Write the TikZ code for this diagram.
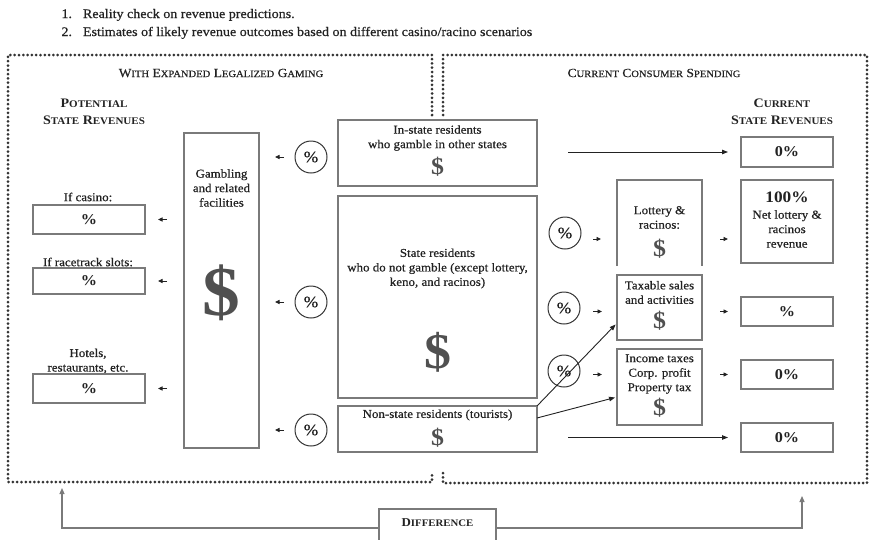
\documentclass[tikz,border=0pt]{standalone}
\usepackage{fontspec}
\setmainfont{Liberation Serif}[FakeStretch=1.08,UprightFeatures={FakeBold=0.6}]
\usetikzlibrary{arrows.meta}
\definecolor{ink}{HTML}{222222}
\definecolor{boxc}{HTML}{7A7A7A}
\definecolor{dolc}{HTML}{505050}
\definecolor{dotc}{HTML}{333333}
\newcommand\fsc[4]{{\fontsize{#1}{#1}\selectfont #3}{\fontsize{#2}{#2}\selectfont #4}}
\newcommand\hsc[2]{\fsc{12.5}{9.8}{#1}{#2}}
\newcommand\bsc[2]{\fsc{13}{10.2}{#1}{#2}}
\newcommand\dsc[2]{\fsc{12}{10}{#1}{#2}}
\begin{document}
\begin{tikzpicture}[x=1pt,y=-1pt,
 every node/.style={inner sep=0pt,outer sep=0pt,text=ink},
 boxline/.style={draw=boxc,line width=1.2pt},
 box/.style={boxline},
 txt/.style={font=\fontsize{12}{14.5}\selectfont,align=center},
 hdr/.style={font=\fontsize{13}{16}\selectfont},
 pct/.style={draw=dotc,circle,line width=1pt,minimum size=32pt,font=\fontsize{16}{16}\selectfont},
 bpct/.style={font=\bfseries\fontsize{15}{15}\selectfont},
 dollar/.style={text=dolc},
 arr/.style={draw=ink,line width=0.9pt,-{Triangle[length=6pt,width=4.5pt]}},
 sarr/.style={draw=ink,line width=0.9pt,-{Triangle[length=4.5pt,width=4pt]}},
 garr/.style={draw=boxc,line width=1.2pt,-{Triangle[length=6pt,width=5pt]}},
 dotframe/.style={draw=dotc,line width=3pt,line cap=round,dash pattern=on 0pt off 4.3pt},
]
\useasboundingbox (0,0) rectangle (878,539);

% header list
\node[hdr,anchor=base east] (n1) at (72,18) {1.};
\node[hdr,anchor=base west] (l1) at (83,18) {Reality check on revenue predictions.};
\node[hdr,anchor=base east] (n2) at (72,36) {2.};
\node[hdr,anchor=base west] (l2) at (83,36) {Estimates of likely revenue outcomes based on different casino/racino scenarios};

% dotted frames
\draw[dotframe] (432,115) -- (432,55) -- (8,55) -- (8,482) -- (432,482) -- (432,472);
\draw[dotframe] (443,115) -- (443,55) -- (867,55) -- (867,483) -- (443,483) -- (443,472);

% headings
\node[font=\fontsize{12.5}{14}\selectfont] (tl) at (221,73) {\hsc{W}{ITH} \hsc{E}{XPANDED} \hsc{L}{EGALIZED} \hsc{G}{AMING}};
\node[font=\fontsize{12.5}{14}\selectfont] (tr) at (654,73) {\hsc{C}{URRENT} \hsc{C}{ONSUMER} \hsc{S}{PENDING}};
\node[font=\bfseries\fontsize{13}{16.5}\selectfont,align=center] (potl) at (94,112) {\bsc{P}{OTENTIAL}\\\bsc{S}{TATE} \bsc{R}{EVENUES}};
\node[font=\bfseries\fontsize{13}{16.5}\selectfont,align=center] (curr) at (782,112) {\bsc{C}{URRENT}\\\bsc{S}{TATE} \bsc{R}{EVENUES}};

% left revenue boxes
\node[txt] (lcas) at (88,197) {If casino:};
\node[box,minimum width=112pt,minimum height=29pt,bpct] (casino) at (89,219.5) {\%};
\node[txt] (lrace) at (88,262) {If racetrack slots:};
\node[box,minimum width=112pt,minimum height=26pt,bpct] (race) at (89,281) {\%};
\node[txt] (lhot) at (88,361) {Hotels,\\restaurants, etc.};
\node[box,minimum width=112pt,minimum height=29pt,bpct] (hotel) at (89,388.5) {\%};

% gambling box
\node[box,minimum width=75pt,minimum height=315pt] (gamb) at (221.5,290.5) {};
\node[txt] (gambt) at (221.5,188) {Gambling\\and related\\facilities};
\node[dollar,font=\bfseries\fontsize{70}{70}\selectfont] (gambd) at (221.5,293) {\$};

% circles left
\node[pct] (c1) at (311,157) {\%};
\node[pct] (c2) at (311,302) {\%};
\node[pct] (c3) at (311,430) {\%};

% central boxes
\node[box,minimum width=199pt,minimum height=66pt] (instate) at (437.5,153) {};
\node[txt] (instt) at (437.5,138) {In-state residents\\who gamble in other states};
\node[dollar,font=\bfseries\fontsize{24}{24}\selectfont] (insd) at (437.5,167) {\$};
\node[box,minimum width=199pt,minimum height=202pt] (stres) at (437.5,297) {};
\node[txt] (strest) at (437.5,268.5) {State residents\\who do not gamble (except lottery,\\keno, and racinos)};
\node[dollar,font=\bfseries\fontsize{50}{50}\selectfont] (stresd) at (437.5,352) {\$};
\node[box,minimum width=199pt,minimum height=46pt] (nonst) at (437.5,429) {};
\node[txt] (nonstt) at (437.5,415) {Non-state residents (tourists)};
\node[dollar,font=\bfseries\fontsize{24}{24}\selectfont] (nonstd) at (437.5,438) {\$};

% right circles
\node[pct] (c4) at (565,233) {\%};
\node[pct] (c5) at (564,308) {\%};
\node[pct] (c6) at (564,371) {\%};

% right middle boxes
\node[minimum width=85pt,minimum height=86pt] (lott) at (659.5,223) {};
\draw[boxline] (lott.south west) -- (lott.north west) -- (lott.north east) -- (lott.south east);
\node[txt] (lottt) at (659.5,217.5) {Lottery \&\\racinos:};
\node[dollar,font=\bfseries\fontsize{24}{24}\selectfont] (lottd) at (659.5,249) {\$};
\node[box,minimum width=85pt,minimum height=65pt] (tax) at (659.5,307.5) {};
\node[txt] (taxt) at (659.5,292.5) {Taxable sales\\and activities};
\node[dollar,font=\bfseries\fontsize{24}{24}\selectfont] (taxd) at (659.5,321) {\$};
\node[box,minimum width=85pt,minimum height=76pt] (inc) at (659.5,387) {};
\node[txt] (inct) at (659.5,374) {Income taxes\\Corp. profit\\Property tax};
\node[dollar,font=\bfseries\fontsize{24}{24}\selectfont] (incd) at (659.5,408) {\$};

% current revenue boxes
\node[box,minimum width=92pt,minimum height=30pt,bpct] (r0) at (787,152) {0\%};
\node[box,minimum width=92pt,minimum height=83pt] (r100) at (787,221.5) {};
\node[font=\bfseries\fontsize{16}{16}\selectfont] (r100p) at (787,197) {100\%};
\node[txt] (r100t) at (787,229) {Net lottery \&\\racinos\\revenue};
\node[box,minimum width=92pt,minimum height=29pt,bpct] (rtax) at (787,311.5) {\%};
\node[box,minimum width=92pt,minimum height=29pt,bpct] (rinc) at (787,374.5) {0\%};
\node[box,minimum width=92pt,minimum height=29pt,bpct] (rtour) at (787,437.5) {0\%};

% left arrows
\draw[sarr,shorten <=11pt,shorten >=16pt] (c1.west) -- (c1.west -| gamb.east);
\draw[sarr,shorten <=11pt,shorten >=16pt] (c2.west) -- (c2.west -| gamb.east);
\draw[sarr,shorten <=11pt,shorten >=16pt] (c3.west) -- (c3.west -| gamb.east);
\draw[sarr,shorten <=17pt,shorten >=13pt] (gamb.west |- casino.east) -- (casino.east);
\draw[sarr,shorten <=17pt,shorten >=13pt] (gamb.west |- race.east) -- (race.east);
\draw[sarr,shorten <=17pt,shorten >=13pt] (gamb.west |- hotel.east) -- (hotel.east);

% right short arrows
\draw[sarr,shorten <=12pt,shorten >=16pt] ([yshift=-6pt]c4.east) -- ([yshift=-6pt]c4.east -| lott.west);
\draw[sarr,shorten <=13pt,shorten >=15pt] (c5.east |- rtax.west) -- (tax.west |- rtax.west);
\draw[sarr,shorten <=13pt,shorten >=15pt] (c6.east |- rinc.west) -- (inc.west |- rinc.west);
\draw[sarr,shorten <=18pt,shorten >=13pt] ([yshift=-16pt]lott.east) -- ([yshift=-16pt]lott.east -| r100.west);
\draw[sarr,shorten <=18pt,shorten >=13pt] (tax.east |- rtax.west) -- (rtax.west);
\draw[sarr,shorten <=18pt,shorten >=13pt] (inc.east |- rinc.west) -- (rinc.west);

% long arrows
\draw[arr,shorten <=31pt,shorten >=13pt] (instate.east |- r0.west) -- (r0.west);
\draw[arr,shorten <=31pt,shorten >=13pt] (nonst.east |- rtour.west) -- (rtour.west);

% diagonal arrows
\draw[arr,shorten >=2pt] (nonst.north east) -- ([yshift=-15.5pt]tax.west);
\draw[arr,shorten >=2pt] ([yshift=-12pt]nonst.north east) -- ([yshift=-10pt]inc.west);

% difference
\node[box,minimum width=117pt,minimum height=38pt] (diff) at (437.5,528) {};
\node[font=\bfseries\fontsize{12}{12}\selectfont] (difft) at (437.5,523) {\dsc{D}{IFFERENCE}};
\coordinate (lt) at (62,488);
\coordinate (rt) at (802,496);
\draw[garr] (diff.west) -| (lt);
\draw[garr] (diff.east) -| (rt);
\end{tikzpicture}
\end{document}
